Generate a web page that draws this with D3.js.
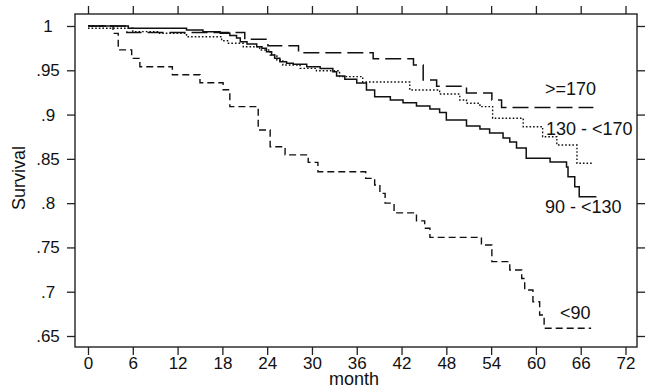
<!DOCTYPE html>
<html>
<head>
<meta charset="utf-8">
<script src="https://cdn.jsdelivr.net/npm/d3@7"></script>
<style>
  body { margin: 0; background: #fff; }
  text { font-family: "Liberation Sans", Arial, sans-serif; fill: #111; }
</style>
</head>
<body>
<svg id="chart" width="662" height="392"></svg>
<script>

// Kaplan-Meier survival by group, month vs survival
var groups = [">=170", "130 - <170", "90 - <130", "<90"];

var month170 = [0, 5.2, 21.0, 24.1, 28.2, 38.2, 43.6, 44.9, 46.7, 50.7, 54.1, 55.4, 67.7];
var surv170  = [1, 0.9927, 0.985, 0.9778, 0.9699, 0.963, 0.956, 0.939, 0.932, 0.9244, 0.9165, 0.908, 0.908];

var month130 = [0, 6.0, 9.6, 13.2, 17.9, 18.7, 20.8, 23.0, 24.4, 25.3, 26.1, 28.4, 30.6, 33.7, 36.8,
                43.1, 47.1, 49.8, 50.7, 52.5, 54.2, 58.3, 60.9, 62.8, 65.5, 67.7];
var surv130  = [0.9975, 0.9936, 0.9918, 0.9879, 0.9834, 0.9805, 0.9766, 0.9729, 0.9673, 0.9616, 0.956, 0.9522, 0.9495, 0.9428, 0.9368,
                0.9277, 0.9232, 0.9165, 0.9127, 0.909, 0.8958, 0.8863, 0.875, 0.8656, 0.845, 0.845];

var month90 = [0, 5.4, 13.2, 15.4, 17.7, 19.0, 19.9, 20.4, 21.3, 22.6, 23.3, 23.9, 24.6, 25.0, 25.7, 26.6, 27.5,
               29.3, 31.1, 32.8, 33.3, 34.4, 36.0, 37.3, 38.4, 40.5, 42.2, 44.0, 45.8, 47.1, 48.0, 50.7, 52.5,
               53.8, 55.6, 56.5, 57.4, 58.7, 61.9, 64.1, 64.3, 65.2, 65.8, 68.1];
var surv90  = [1, 0.9974, 0.9955, 0.9936, 0.9918, 0.9893, 0.9865, 0.9823, 0.9797, 0.9766, 0.9748, 0.971, 0.9673, 0.9636, 0.9597, 0.9579, 0.9568,
               0.954, 0.952, 0.9484, 0.9435, 0.940, 0.9356, 0.9277, 0.920, 0.9165, 0.9134, 0.9097, 0.9063, 0.9023, 0.894, 0.887, 0.8837,
               0.8792, 0.8735, 0.869, 0.8623, 0.8506, 0.8464, 0.8408, 0.8298, 0.8186, 0.8073, 0.8073];

var monthLow = [0, 3.35, 4.05, 5.85, 6.95, 11.3, 15.0, 18.1, 19.0, 22.8, 24.4, 26.4, 29.5, 30.8, 37.2, 38.4, 39.1,
                39.8, 41.0, 44.0, 45.1, 45.8, 52.7, 54.1, 56.5, 58.1, 58.5, 59.6, 60.5, 61.1, 67.4];
var survLow  = [1, 0.9917, 0.973, 0.9635, 0.954, 0.945, 0.936, 0.928, 0.909, 0.8826, 0.8637, 0.8545, 0.846, 0.8355, 0.828, 0.8205, 0.811,
                0.80, 0.789, 0.780, 0.7716, 0.7614, 0.7527, 0.734, 0.7245, 0.715, 0.702, 0.6887, 0.6737, 0.6587, 0.6587];

var xTicks = [0, 6, 12, 18, 24, 30, 36, 42, 48, 54, 60, 66, 72];
var yTicks = [1, 0.95, 0.9, 0.85, 0.8, 0.75, 0.7, 0.65];

var svg = d3.select("#chart");

var frame = {left: 75, right: 637, top: 14, bottom: 347};

var xScale = d3.scaleLinear().domain([0, 72]).range([88, 625.5]);
var yScale = d3.scaleLinear().domain([0.65, 1]).range([336, 26]);

function zipSeries(ms, ss) {
    return ms.map(function(m, i) { return {month: m, surv: ss[i]}; });
}

var series = [
    {name: groups[0], data: zipSeries(month170, surv170), dash: "16,6", width: 1.5, lx: 545, ly: 95},
    {name: groups[1], data: zipSeries(month130, surv130), dash: "1.6,2", width: 1.4, lx: 546, ly: 135},
    {name: groups[2], data: zipSeries(month90, surv90), dash: null, width: 1.5, lx: 545, ly: 213},
    {name: groups[3], data: zipSeries(monthLow, survLow), dash: "7,4", width: 1.4, lx: 560, ly: 319}
];

var stepLine = d3.line()
    .curve(d3.curveStepAfter)
    .x(d => xScale(d.month))
    .y(d => yScale(d.surv));

// axes
svg.append("g").attr("class", "axis xAxisBottom")
    .attr("transform", "translate(0," + frame.bottom + ")")
    .call(d3.axisBottom(xScale).tickValues(xTicks).tickSize(8).tickSizeOuter(0).tickPadding(1.5));

svg.append("g").attr("class", "axis xAxisTop")
    .attr("transform", "translate(0," + frame.top + ")")
    .call(d3.axisTop(xScale).tickValues(xTicks).tickSize(8).tickSizeOuter(0).tickFormat(""));

svg.append("g").attr("class", "axis yAxisLeft")
    .attr("transform", "translate(" + frame.left + ",0)")
    .call(d3.axisLeft(yScale).tickValues(yTicks).tickSize(8).tickSizeOuter(0)
        .tickFormat(d => d === 1 ? "1" : String(d).replace(/^0/, "")));

svg.append("g").attr("class", "axis yAxisRight")
    .attr("transform", "translate(" + frame.right + ",0)")
    .call(d3.axisRight(yScale).tickValues(yTicks).tickSize(8).tickSizeOuter(0).tickFormat(""));

svg.selectAll(".axis .domain").remove();
svg.selectAll(".axis .tick line")
    .attr("stroke", "#222")
    .attr("stroke-width", 1.3);
svg.selectAll(".axis .tick text")
    .style("font-size", "17px")
    .attr("fill", "#111");
svg.selectAll(".yAxisLeft .tick text")
    .attr("text-anchor", "middle")
    .attr("x", -27);

// frame
svg.append("rect")
    .attr("x", frame.left)
    .attr("y", frame.top)
    .attr("width", frame.right - frame.left)
    .attr("height", frame.bottom - frame.top)
    .attr("fill", "none")
    .attr("stroke", "#222")
    .attr("stroke-width", 1.4);

// curves
svg.selectAll(".km")
    .data(series)
    .enter().append("path")
    .attr("class", "km")
    .attr("fill", "none")
    .attr("stroke", "#111")
    .attr("stroke-width", d => d.width)
    .attr("stroke-dasharray", d => d.dash)
    .attr("d", d => stepLine(d.data));

svg.selectAll(".kmLabel")
    .data(series)
    .enter().append("text")
    .attr("class", "kmLabel")
    .attr("x", d => d.lx)
    .attr("y", d => d.ly)
    .style("font-size", "18px")
    .text(d => d.name);

// axis titles
svg.append("text")
    .attr("x", 354)
    .attr("y", 385)
    .attr("text-anchor", "middle")
    .style("font-size", "18px")
    .text("month");

svg.append("text")
    .attr("transform", "translate(" + 25 + "," + 178 + ") rotate(-90)")
    .attr("text-anchor", "middle")
    .style("font-size", "18px")
    .text("Survival");

</script>
</body>
</html>
